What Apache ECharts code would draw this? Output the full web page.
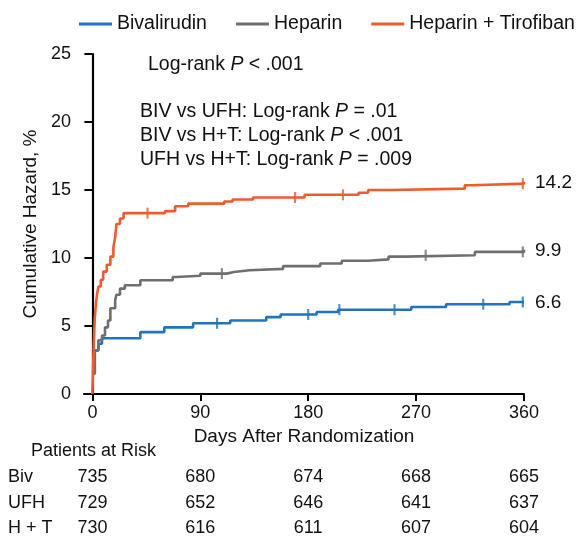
<!DOCTYPE html>
<html><head><meta charset="utf-8">
<script src="https://cdn.jsdelivr.net/npm/echarts@6/dist/echarts.min.js"></script>
<style>html,body{margin:0;padding:0;background:#fff}#c{width:580px;height:540px}</style>
</head><body><div id="c"></div>
<script>
// ---- data ----
const seriesNames = ['Bivalirudin', 'Heparin', 'Heparin + Tirofiban'];
const bivDays = [0, 2, 5, 8, 40, 60, 84, 115, 145, 157, 187, 205, 266, 295, 348, 360];
const bivVals = [1.5, 3.2, 3.7, 4.1, 4.55, 4.9, 5.2, 5.4, 5.65, 5.85, 6.03, 6.2, 6.4, 6.6, 6.76, 6.76];
const ufhDays = [0, 2, 5, 8, 10.5, 13, 15, 19, 20, 23, 27, 40, 67, 70, 90, 112, 118, 131, 159, 190, 208, 230, 247, 261, 319, 360];
const ufhVals = [1.5, 3.2, 3.95, 4.3, 4.9, 5.4, 6.3, 6.9, 7.3, 7.75, 8.0, 8.36, 8.6, 8.7, 8.85, 8.97, 9.1, 9.2, 9.4, 9.6, 9.8, 9.9, 10.1, 10.2, 10.45, 10.6];
const htDays = [0, 0.5, 1, 1.5, 2, 3, 4, 5, 7, 9, 12, 15, 17.5, 19, 20, 23, 26, 60.6, 69, 80, 110, 117, 134, 177, 222, 230, 249.5, 310.6, 317.5, 360];
const htVals = [0, 1.8, 3.2, 4.5, 5.6, 6.7, 7.4, 7.9, 8.4, 9.0, 9.5, 10.1, 10.8, 11.5, 12.5, 12.9, 13.3, 13.45, 13.8, 14.0, 14.15, 14.3, 14.45, 14.65, 14.8, 15.0, 15.1, 15.35, 15.47, 15.6];
const bivCensor = [104, 180, 206, 252, 326, 359];
const ufhCensor = [108, 278, 359];
const htCensor = [46, 169, 209, 359];
const endLabels = ['6.6', '9.9', '14.2'];
const xTicks = [0, 90, 180, 270, 360];
const riskRowLabels = ['Biv', 'UFH', 'H + T'];
const riskBiv = [735, 680, 674, 668, 665];
const riskUfh = [729, 652, 646, 641, 637];
const riskHt = [730, 616, 611, 607, 604];
const annotations = [
  ['Log-rank ', 'P', ' < .001'],
  ['BIV vs UFH: Log-rank ', 'P', ' = .01'],
  ['BIV vs H+T: Log-rank ', 'P', ' < .001'],
  ['UFH vs H+T: Log-rank ', 'P', ' = .009']
];

// ---- styling ----
const colors = ['#1f74bd', '#6f6f72', '#f15a2b'];
const FONT = '"Liberation Sans", Arial, Helvetica, sans-serif';

function zip(a, b) { return a.map((d, i) => [d, b[i]]); }
function stepAt(days, vals, d) { let v = vals[0]; for (let i = 0; i < days.length; i++) { if (days[i] <= d) v = vals[i]; } return v; }

const curves = [[bivDays, bivVals, bivCensor], [ufhDays, ufhVals, ufhCensor], [htDays, htVals, htCensor]];

const series = [];
curves.forEach((c, i) => {
  series.push({
    name: seriesNames[i], type: 'line', step: 'end', data: zip(c[0], c[1]),
    symbol: 'none', lineStyle: { color: colors[i], width: 2.6 }, itemStyle: { color: colors[i] },
    z: 3 + i, animation: false
  });
});
curves.forEach((c, i) => {
  series.push({
    name: seriesNames[i] + ' censored', type: 'scatter',
    data: c[2].map(d => [d, stepAt(c[0], c[1], d)]),
    symbol: 'rect', symbolSize: [2.2, 11], itemStyle: { color: colors[i] },
    z: 6, animation: false, silent: true
  });
});

const chart = echarts.init(document.getElementById('c'), null, { renderer: 'canvas' });
const option = {
  backgroundColor: '#fff',
  animation: false,
  textStyle: { fontFamily: FONT, color: '#111' },
  legend: {
    data: seriesNames, top: 9, left: 74, width: 506, icon: 'rect', itemWidth: 33, itemHeight: 3, itemGap: 29,
    textStyle: { fontFamily: FONT, fontSize: 19.5, color: '#111' }
  },
  grid: { left: 84, right: 56, top: 54, bottom: 146, containLabel: false },
  xAxis: {
    type: 'value', min: -7, max: 360,
    name: 'Days After Randomization', nameLocation: 'middle', nameGap: 28,
    nameTextStyle: { fontFamily: FONT, fontSize: 19, color: '#111' },
    axisLine: { show: true, lineStyle: { color: '#000', width: 2.2 } },
    axisTick: { show: true, customValues: xTicks, length: 7, lineStyle: { color: '#000', width: 2 } },
    axisLabel: { customValues: xTicks, fontFamily: FONT, fontSize: 18, color: '#111', margin: 10 },
    splitLine: { show: false }
  },
  yAxis: {
    type: 'value', min: 0, max: 25, interval: 5,
    name: 'Cumulative Hazard, %', nameLocation: 'middle', nameGap: 40, nameRotate: 90,
    nameTextStyle: { fontFamily: FONT, fontSize: 19, color: '#111' },
    axisLine: { show: true, lineStyle: { color: '#000', width: 2.2 } },
    axisTick: { show: true, length: 8, lineStyle: { color: '#000', width: 2 } },
    axisLabel: { fontFamily: FONT, fontSize: 18, color: '#111', margin: 13 },
    splitLine: { show: false }
  },
  series: series
};
chart.setOption(option);

// ---- text overlays positioned through the axes ----
const graphics = [];
const annX = [148, 140, 140, 140];
const annY = [66, 113, 137, 161];
annotations.forEach((a, k) => {
  graphics.push({
    type: 'text', left: annX[k], top: annY[k] - 11, silent: true,
    style: {
      text: '{n|' + a[0] + '}{i|' + a[1] + '}{n|' + a[2] + '}',
      rich: {
        n: { fontFamily: FONT, fontSize: 19.5, fill: '#111' },
        i: { fontFamily: FONT, fontSize: 19.5, fontStyle: 'italic', fill: '#111' }
      }
    }
  });
});
// end-of-curve labels
curves.forEach((c, i) => {
  const lastV = c[1][c[1].length - 1];
  const p = chart.convertToPixel({ xAxisIndex: 0, yAxisIndex: 0 }, [360, lastV]);
  graphics.push({
    type: 'text', x: p[0] + 11, y: p[1] + 1, silent: true,
    style: { text: endLabels[i], fontFamily: FONT, fontSize: 19, fill: '#111', verticalAlign: 'middle', align: 'left' }
  });
});
// risk table
graphics.push({
  type: 'text', x: 31, y: 451, silent: true,
  style: { text: 'Patients at Risk', fontFamily: FONT, fontSize: 18, fill: '#111', verticalAlign: 'middle' }
});
const riskRows = [riskBiv, riskUfh, riskHt];
const rowY = [477, 503, 528];
riskRows.forEach((row, r) => {
  graphics.push({
    type: 'text', x: 8, y: rowY[r], silent: true,
    style: { text: riskRowLabels[r], fontFamily: FONT, fontSize: 18, fill: '#111', verticalAlign: 'middle' }
  });
  row.forEach((v, j) => {
    const px = chart.convertToPixel({ xAxisIndex: 0 }, xTicks[j]);
    graphics.push({
      type: 'text', x: px, y: rowY[r], silent: true,
      style: { text: String(v), fontFamily: FONT, fontSize: 18, fill: '#111', verticalAlign: 'middle', align: 'center' }
    });
  });
});
chart.setOption({ graphic: graphics });
</script>
</body></html>
